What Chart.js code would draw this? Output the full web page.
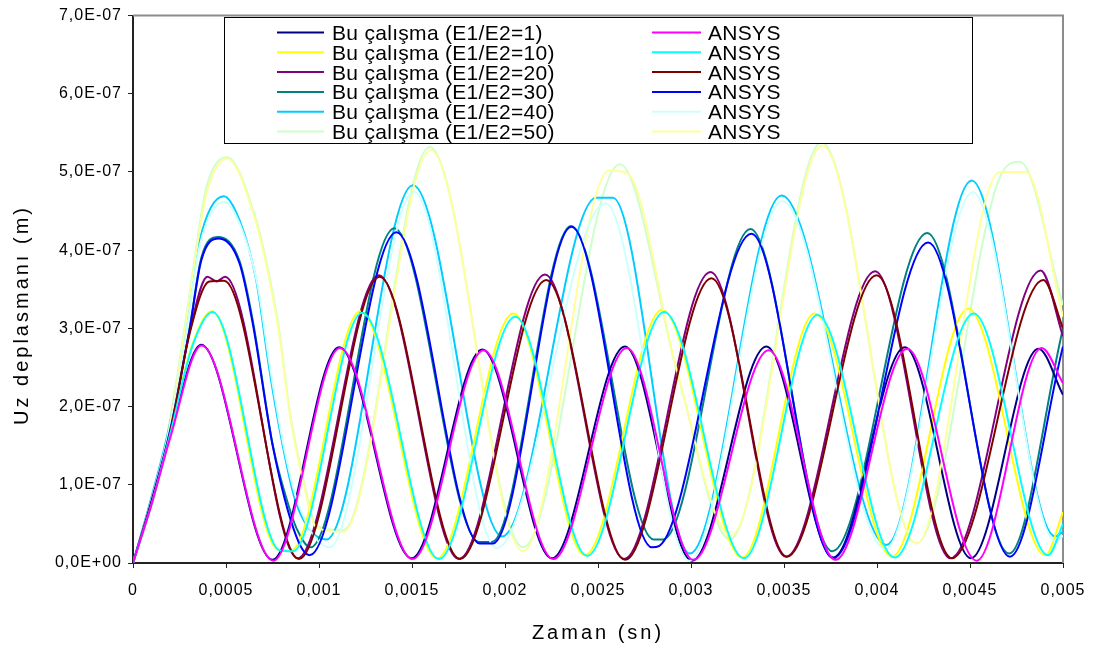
<!DOCTYPE html>
<html>
<head>
<meta charset="utf-8">
<title>Uz deplasmanı</title>
<script src="https://cdn.jsdelivr.net/npm/chart.js@4.4.1/dist/chart.umd.min.js"></script>
<style>
  html, body { margin: 0; padding: 0; background: #fff; }
  canvas { display: block; }
</style>
</head>
<body>
<canvas id="chart" width="1105" height="655"></canvas>
<script>
// time in ms, displacement in 1e-7 m (axes show the real units through the tick labels)
const X_TICK_LABELS = ["0", "0,0005", "0,001", "0,0015", "0,002", "0,0025", "0,003", "0,0035", "0,004", "0,0045", "0,005"];
const Y_TICK_LABELS = ["0,0E+00", "1,0E-07", "2,0E-07", "3,0E-07", "4,0E-07", "5,0E-07", "6,0E-07", "7,0E-07"];

const LABELS = [
  "Bu çalışma (E1/E2=1)", "Bu çalışma (E1/E2=10)", "Bu çalışma (E1/E2=20)",
  "Bu çalışma (E1/E2=30)", "Bu çalışma (E1/E2=40)", "Bu çalışma (E1/E2=50)",
  "ANSYS", "ANSYS", "ANSYS", "ANSYS", "ANSYS", "ANSYS"
];
const COLORS = [
  "#000080", "#ffff00", "#800080", "#008080", "#00ccff", "#ccffcc",
  "#ff00ff", "#00ffff", "#800000", "#0000ff", "#ccffff", "#ffff99"
];

// Bu çalışma, E1/E2=1
const tBu1 = [0, 0.1, 0.2, 0.367, 0.750, 1.108, 1.497, 1.878, 2.252, 2.645, 3.005, 3.405, 3.765, 4.150, 4.505, 4.868, 5.0];
const uzBu1 = [0, 0.8, 1.65, 2.79, 0.04, 2.76, 0.06, 2.73, 0.06, 2.77, 0.03, 2.77, 0.07, 2.76, 0.06, 2.74, 2.15];
// Bu çalışma, E1/E2=10
const tBu10 = [0, 0.1, 0.2, 0.32, 0.424, 0.78, 0.85, 1.222, 1.635, 2.045, 2.43, 2.845, 3.275, 3.665, 4.08, 4.49, 4.905, 5.0];
const uzBu10 = [0, 0.8, 1.7, 2.8, 3.22, 0.17, 0.16, 3.22, 0.06, 3.19, 0.1, 3.24, 0.07, 3.19, 0.08, 3.25, 0.1, 0.65];
// Bu çalışma, E1/E2=20
const tBu20 = [0, 0.1, 0.2, 0.304, 0.40, 0.45, 0.495, 0.885, 1.322, 1.752, 2.215, 2.64, 3.105, 3.51, 3.99, 4.395, 4.88, 5.0];
const uzBu20 = [0, 0.8, 1.7, 2.95, 3.66, 3.6, 3.66, 0.06, 3.68, 0.05, 3.69, 0.05, 3.72, 0.08, 3.73, 0.06, 3.74, 2.9];
// Bu çalışma, E1/E2=30
const tBu30 = [0, 0.1, 0.2, 0.304, 0.367, 0.458, 0.573, 0.644, 0.752, 0.833, 0.878, 0.955, 1.405, 1.86, 1.93, 2.355, 2.80, 2.85, 3.32, 3.76, 4.27, 4.71, 5.0];
const uzBu30 = [0, 0.82, 1.72, 3.0, 3.9, 4.17, 3.86, 3.1, 1.5, 0.76, 0.45, 0.2, 4.28, 0.27, 0.27, 4.31, 0.3, 0.3, 4.27, 0.15, 4.22, 0.12, 3.0];
// Bu çalışma, E1/E2=40
const tBu40 = [0, 0.1, 0.2, 0.286, 0.358, 0.488, 0.573, 0.663, 0.734, 0.806, 0.878, 1.04, 1.505, 1.985, 2.49, 2.58, 2.993, 3.487, 4.051, 4.509, 4.957, 5.0];
const uzBu40 = [0, 0.85, 1.8, 3.0, 4.12, 4.69, 4.38, 3.61, 2.46, 1.49, 0.76, 0.3, 4.83, 0.34, 4.67, 4.67, 0.12, 4.70, 0.23, 4.89, 0.34, 0.4];
// Bu çalışma, E1/E2=50
const tBu50 = [0, 0.071, 0.16, 0.214, 0.286, 0.34, 0.394, 0.505, 0.663, 0.734, 0.788, 0.842, 0.913, 0.985, 1.13, 1.595, 2.097, 2.617, 2.93, 3.209, 3.702, 4.213, 4.67, 4.768, 5.0];
const uzBu50 = [0, 0.59, 1.36, 2.04, 3.15, 4.04, 4.8, 5.19, 4.38, 3.66, 2.95, 1.95, 1.1, 0.48, 0.42, 5.32, 0.2, 5.1, 2.4, 0.3, 5.38, 0.25, 4.98, 5.13, 3.3];

// ANSYS, paired with E1/E2=1 .. 50
const tAn1 = [0, 0.1, 0.2, 0.369, 0.754, 1.113, 1.503, 1.885, 2.260, 2.655, 3.013, 3.418, 3.777, 4.162, 4.535, 4.885, 5.0];
const uzAn1 = [0, 0.75, 1.6, 2.78, 0.03, 2.75, 0.05, 2.72, 0.05, 2.75, 0.04, 2.72, 0.04, 2.74, 0.03, 2.75, 2.3];
const tAn10 = [0, 0.1, 0.2, 0.32, 0.428, 0.79, 0.86, 1.232, 1.645, 2.055, 2.442, 2.855, 3.285, 3.68, 4.095, 4.52, 4.92, 5.0];
const uzAn10 = [0, 0.75, 1.65, 2.78, 3.21, 0.16, 0.15, 3.2, 0.05, 3.15, 0.09, 3.21, 0.06, 3.17, 0.07, 3.19, 0.1, 0.5];
const tAn20 = [0, 0.1, 0.2, 0.304, 0.41, 0.49, 0.892, 1.326, 1.758, 2.222, 2.646, 3.11, 3.516, 3.998, 4.403, 4.894, 5.0];
const uzAn20 = [0, 0.78, 1.68, 2.93, 3.6, 3.61, 0.05, 3.66, 0.05, 3.62, 0.04, 3.64, 0.08, 3.68, 0.06, 3.62, 3.0];
const tAn30 = [0, 0.1, 0.2, 0.304, 0.367, 0.462, 0.573, 0.644, 0.752, 0.878, 0.95, 1.416, 1.864, 1.935, 2.357, 2.79, 2.83, 3.325, 3.764, 4.275, 4.715, 5.0];
const uzAn30 = [0, 0.8, 1.7, 2.98, 3.87, 4.15, 3.83, 3.06, 1.49, 0.34, 0.1, 4.23, 0.25, 0.25, 4.30, 0.2, 0.22, 4.21, 0.06, 4.10, 0.08, 2.77];
const tAn40 = [0, 0.1, 0.2, 0.286, 0.358, 0.49, 0.58, 0.67, 0.74, 0.81, 0.885, 1.057, 1.51, 1.955, 2.54, 2.99, 3.49, 4.045, 4.515, 4.96, 5.0];
const uzAn40 = [0, 0.82, 1.75, 2.95, 4.05, 4.62, 4.3, 3.55, 2.45, 1.5, 0.78, 0.2, 4.75, 0.19, 4.6, 0.03, 4.63, 0.18, 4.74, 0.28, 0.35];
const tAn50 = [0, 0.071, 0.16, 0.214, 0.286, 0.34, 0.394, 0.505, 0.663, 0.734, 0.788, 0.842, 0.913, 0.985, 1.13, 1.60, 2.097, 2.56, 2.66, 2.92, 3.215, 3.705, 4.213, 4.66, 4.80, 5.0];
const uzAn50 = [0, 0.55, 1.3, 1.98, 3.1, 3.98, 4.72, 5.17, 4.34, 3.61, 2.89, 1.91, 1.06, 0.46, 0.4, 5.28, 0.15, 5.02, 4.98, 2.5, 0.35, 5.34, 0.25, 5.0, 5.0, 3.15];

const SERIES = [
  [tBu1, uzBu1], [tBu10, uzBu10], [tBu20, uzBu20], [tBu30, uzBu30], [tBu40, uzBu40], [tBu50, uzBu50],
  [tAn1, uzAn1], [tAn10, uzAn10], [tAn20, uzAn20], [tAn30, uzAn30], [tAn40, uzAn40], [tAn50, uzAn50]
];

const FONT = "'Liberation Sans', Arial, sans-serif";

function points(t, v) {
  return t.map((x, i) => ({ x: x, y: v[i] }));
}

const datasets = SERIES.map((s, i) => ({
  label: LABELS[i],
  data: points(s[0], s[1]),
  borderColor: COLORS[i],
  backgroundColor: COLORS[i],
  borderWidth: 2,
  pointRadius: 0,
  fill: false,
  cubicInterpolationMode: "monotone",
  order: i < 6 ? 2 : 1
}));

// frame, axis titles and the boxed two-column legend
const decor = {
  id: "decor",
  beforeDraw(chart) {
    chart.ctx.letterSpacing = "1px";
  },
  beforeDatasetsDraw(chart) {
    const { ctx, chartArea: a } = chart;
    ctx.save();
    ctx.strokeStyle = "#8c8c8c";
    ctx.lineWidth = 2;
    ctx.beginPath();
    ctx.moveTo(a.left, a.top);
    ctx.lineTo(a.right, a.top);
    ctx.lineTo(a.right, a.bottom);
    ctx.stroke();
    ctx.restore();
  },
  afterDatasetsDraw(chart) {
    const ctx = chart.ctx;
    ctx.save();

    // legend box
    ctx.letterSpacing = "0.3px";
    ctx.fillStyle = "#fff";
    ctx.fillRect(224, 17, 748, 126);
    ctx.strokeStyle = "#000";
    ctx.lineWidth = 1;
    ctx.strokeRect(224.5, 17.5, 748, 126);
    ctx.font = "21px " + FONT;
    ctx.textAlign = "left";
    ctx.textBaseline = "alphabetic";
    for (let i = 0; i < 6; i++) {
      const y = 32.5 + i * 19.8;
      [[277, 324, 332, i], [652, 701, 708, i + 6]].forEach(([x0, x1, tx, k]) => {
        ctx.strokeStyle = COLORS[k];
        ctx.lineWidth = 2;
        ctx.beginPath();
        ctx.moveTo(x0, y);
        ctx.lineTo(x1, y);
        ctx.stroke();
        ctx.fillStyle = "#000";
        ctx.fillText(LABELS[k], tx, y + 7.5);
      });
    }

    // axis titles
    ctx.letterSpacing = "3px";
    ctx.font = "20px " + FONT;
    ctx.fillStyle = "#000";
    ctx.textAlign = "center";
    ctx.textBaseline = "middle";
    ctx.fillText("Zaman (sn)", 598, 633);
    ctx.translate(22, 315);
    ctx.rotate(-Math.PI / 2);
    ctx.fillText("Uz deplasmanı (m)", 0, 0);
    ctx.restore();
  }
};

new Chart(document.getElementById("chart"), {
  type: "line",
  data: { datasets: datasets },
  options: {
    responsive: false,
    animation: false,
    devicePixelRatio: 1,
    layout: { padding: { left: 0, top: 15, right: 42, bottom: 0 } },
    plugins: { legend: { display: false }, tooltip: { enabled: false } },
    scales: {
      x: {
        type: "linear",
        min: 0,
        max: 5,
        afterFit: (s) => { s.height = 92; },
        border: { display: true, color: "#222", width: 2 },
        grid: { drawOnChartArea: false, drawTicks: true, tickLength: 5, color: "#222" },
        ticks: {
          stepSize: 0.5,
          maxRotation: 0,
          autoSkip: false,
          padding: 13,
          color: "#000",
          font: { family: FONT, size: 16 },
          callback: (v, i) => X_TICK_LABELS[i]
        }
      },
      y: {
        min: 0,
        max: 7,
        afterFit: (s) => { s.width = 133; },
        border: { display: true, color: "#222", width: 2 },
        grid: { drawOnChartArea: false, drawTicks: true, tickLength: 5, color: "#222" },
        ticks: {
          stepSize: 1,
          padding: 6,
          color: "#000",
          font: { family: FONT, size: 16 },
          callback: (v, i) => Y_TICK_LABELS[i]
        }
      }
    }
  },
  plugins: [decor]
});
</script>
</body>
</html>
